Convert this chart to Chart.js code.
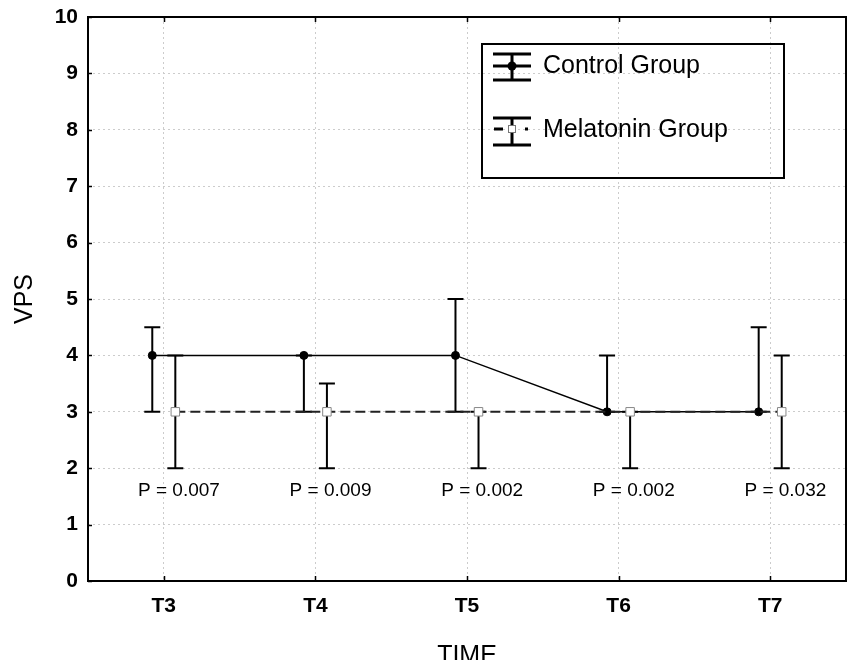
<!DOCTYPE html>
<html><head><meta charset="utf-8">
<script src="https://cdn.jsdelivr.net/npm/chart.js@4"></script>
<style>html,body{margin:0;padding:0;background:#fff;overflow:hidden}</style>
</head><body>
<canvas id="c" width="850" height="660"></canvas>
<script>
// ---- data ----
const categories = ['T3', 'T4', 'T5', 'T6', 'T7'];
const controlMean = [4, 4, 4, 3, 3];
const controlLow = [3, 3, 3, 3, 3];
const controlHigh = [4.5, 4, 5, 4, 4.5];
const melatoninMean = [3, 3, 3, 3, 3];
const melatoninLow = [2, 2, 2, 2, 2];
const melatoninHigh = [4, 3.5, 3, 3, 4];
const pValues = [0.007, 0.009, 0.002, 0.002, 0.032];
const yTickValues = [0, 1, 2, 3, 4, 5, 6, 7, 8, 9, 10];
const seriesNames = ['Control Group', 'Melatonin Group'];

// ---- style constants ----
const FONT = "'Liberation Sans', Arial, sans-serif";
const SHIFT = 0.076;      // horizontal offset of each group from category centre
const P_LABEL_Y = 1.6;
const P_LABEL_DX = 0.1;

const controlPts = controlMean.map((v, i) => ({x: i - SHIFT, y: v, lo: controlLow[i], hi: controlHigh[i]}));
const melPts = melatoninMean.map((v, i) => ({x: i + SHIFT, y: v, lo: melatoninLow[i], hi: melatoninHigh[i]}));

const errorBars = {
  id: 'errorBars',
  beforeDatasetsDraw(chart) {
    const {ctx, scales: {x, y}} = chart;
    ctx.save();
    ctx.strokeStyle = '#000'; ctx.lineWidth = 2; ctx.setLineDash([]);
    chart.data.datasets.forEach(ds => {
      ds.data.forEach(p => {
        const px = x.getPixelForValue(p.x);
        const yl = y.getPixelForValue(p.lo), yh = y.getPixelForValue(p.hi);
        ctx.beginPath();
        ctx.moveTo(px, yl); ctx.lineTo(px, yh);
        ctx.moveTo(px - 8, yl); ctx.lineTo(px + 8, yl);
        ctx.moveTo(px - 8, yh); ctx.lineTo(px + 8, yh);
        ctx.stroke();
      });
    });
    ctx.restore();
  }
};

const pLabels = {
  id: 'pLabels',
  afterDatasetsDraw(chart) {
    const {ctx, scales: {x, y}} = chart;
    ctx.save();
    ctx.fillStyle = '#000';
    ctx.font = '19px ' + FONT;
    ctx.textAlign = 'center'; ctx.textBaseline = 'middle';
    pValues.forEach((p, i) => {
      ctx.fillText('P = ' + p.toFixed(3), x.getPixelForValue(i + P_LABEL_DX), y.getPixelForValue(P_LABEL_Y));
    });
    ctx.restore();
  }
};

const frame = {
  id: 'frame',
  afterDraw(chart) {
    const {ctx, chartArea: a, scales: {x, y}} = chart;
    ctx.save();
    ctx.strokeStyle = '#000'; ctx.lineWidth = 2; ctx.setLineDash([]);
    ctx.strokeRect(a.left, a.top, a.right - a.left, a.bottom - a.top);
    ctx.beginPath();
    x.ticks.forEach(t => {
      const px = Math.round(x.getPixelForValue(t.value)) + 0.5;
      ctx.moveTo(px, a.top); ctx.lineTo(px, a.top + 5);
      ctx.moveTo(px, a.bottom); ctx.lineTo(px, a.bottom - 5);
    });
    y.ticks.forEach(t => {
      const py = Math.round(y.getPixelForValue(t.value)) + 0.5;
      ctx.moveTo(a.left, py); ctx.lineTo(a.left + 4, py);
    });
    ctx.lineWidth = 1.5;
    ctx.stroke();
    ctx.restore();
  }
};

const legendBox = {
  id: 'legendBox',
  afterDraw(chart) {
    const ctx = chart.ctx;
    ctx.save();
    ctx.setLineDash([]);
    ctx.strokeStyle = '#000'; ctx.lineWidth = 2;
    ctx.strokeRect(482, 44, 302, 134);
    // control symbol
    ctx.lineWidth = 3;
    ctx.beginPath();
    [54, 66, 80].forEach(yy => { ctx.moveTo(493, yy); ctx.lineTo(531, yy); });
    ctx.moveTo(512, 54); ctx.lineTo(512, 80);
    ctx.stroke();
    ctx.fillStyle = '#000';
    ctx.beginPath(); ctx.arc(512, 66, 4.5, 0, Math.PI * 2); ctx.fill();
    // melatonin symbol
    ctx.beginPath();
    [118, 145].forEach(yy => { ctx.moveTo(493, yy); ctx.lineTo(531, yy); });
    ctx.moveTo(512, 118); ctx.lineTo(512, 145);
    ctx.moveTo(494, 129); ctx.lineTo(503, 129);
    ctx.moveTo(525, 129); ctx.lineTo(528, 129);
    ctx.stroke();
    ctx.fillStyle = '#fff'; ctx.strokeStyle = '#777'; ctx.lineWidth = 1;
    ctx.fillRect(508, 125, 8, 8); ctx.strokeRect(508.5, 125.5, 7, 7);
    // text
    ctx.fillStyle = '#000';
    ctx.font = '25px ' + FONT;
    ctx.textAlign = 'left'; ctx.textBaseline = 'alphabetic';
    ctx.fillText(seriesNames[0], 543, 72.5);
    ctx.fillText(seriesNames[1], 543, 137);
    ctx.restore();
  }
};

new Chart(document.getElementById('c'), {
  type: 'line',
  data: {
    datasets: [
      {label: seriesNames[0], data: controlPts, order: 1,
       borderColor: '#000', borderWidth: 1.5, tension: 0,
       pointStyle: 'circle', pointRadius: 4, pointBackgroundColor: '#000', pointBorderColor: '#000', pointBorderWidth: 1},
      {label: seriesNames[1], data: melPts, order: 0,
       borderColor: '#222', borderWidth: 2, borderDash: [10, 5], tension: 0,
       pointStyle: 'rect', pointRadius: 6, pointBackgroundColor: '#fff', pointBorderColor: '#888', pointBorderWidth: 1}
    ]
  },
  options: {
    responsive: false, animation: false, devicePixelRatio: 1,
    layout: {autoPadding: false, padding: {top: 17, right: 4, left: 0, bottom: 0}},
    plugins: {legend: {display: false}, tooltip: {enabled: false}},
    scales: {
      x: {
        type: 'linear', min: -0.5, max: 4.5,
        afterBuildTicks: s => { s.ticks = categories.map((c, i) => ({value: i})); },
        afterFit: s => { s.height = 79; s.paddingLeft = 0; s.paddingRight = 0; },
        ticks: {callback: (v, i) => categories[i], font: {family: FONT, size: 21, weight: 'bold'}, color: '#000', padding: 13, maxRotation: 0, autoSkip: false},
        grid: {color: '#cccccc', lineWidth: 1, drawTicks: false},
        border: {display: false, dash: [2, 3]},
        title: {display: true, text: 'TIME', color: '#000', font: {family: FONT, size: 25, lineHeight: 1.2}, padding: {top: 0, bottom: -11}}
      },
      y: {
        min: 0, max: 10,
        afterBuildTicks: s => { s.ticks = yTickValues.map(v => ({value: v})); },
        afterFit: s => { s.width = 88; s.paddingTop = 0; s.paddingBottom = 0; },
        ticks: {font: {family: FONT, size: 21, weight: 'bold'}, color: '#000', padding: 10},
        grid: {color: '#cccccc', lineWidth: 1, drawTicks: false},
        border: {display: false, dash: [2, 3]},
        title: {display: true, text: 'VPS', color: '#000', font: {family: FONT, size: 25, lineHeight: 1.2}, padding: {top: 10, bottom: 0}}
      }
    }
  },
  plugins: [errorBars, pLabels, frame, legendBox]
});
</script>
</body></html>
